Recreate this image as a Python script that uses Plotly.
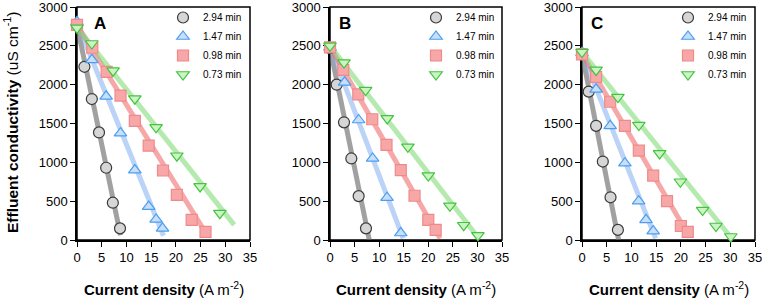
import plotly.graph_objects as go

# ---------------- data ----------------
series_names = ["2.94 min", "1.47 min", "0.98 min", "0.73 min"]
panel_labels = ["A", "B", "C"]
x_ticks = [0, 5, 10, 15, 20, 25, 30, 35]
y_ticks = [0, 500, 1000, 1500, 2000, 2500, 3000]

# Panel A
a_gray_x = [0, 1.5, 3.0, 4.45, 5.9, 7.25, 8.7]
a_gray_y = [2770, 2230, 1815, 1385, 930, 480, 150]
a_blue_x = [0, 3.0, 5.9, 8.8, 11.7, 14.5, 16.0, 17.3]
a_blue_y = [2810, 2320, 1850, 1375, 900, 430, 265, 150]
a_red_x = [0, 3.1, 6.0, 8.8, 11.7, 14.5, 17.4, 20.2, 23.2, 26.0]
a_red_y = [2770, 2475, 2165, 1860, 1535, 1215, 895, 580, 260, 105]
a_green_x = [0, 3.0, 7.3, 11.7, 16.0, 20.2, 24.9, 28.9]
a_green_y = [2730, 2530, 2180, 1820, 1450, 1085, 690, 345]
a_fit_gray_x, a_fit_gray_y = [0, 8.8], [2770, 60]
a_fit_blue_x, a_fit_blue_y = [0, 17.5], [2800, 55]
a_fit_red_x, a_fit_red_y = [0, 26.1], [2770, 85]
a_fit_green_x, a_fit_green_y = [0, 31.8], [2740, 195]

# Panel B
b_gray_x = [0, 1.36, 2.85, 4.34, 5.83, 7.32]
b_gray_y = [2470, 2000, 1515, 1050, 565, 150]
b_blue_x = [0, 2.98, 5.83, 8.67, 11.6, 14.4]
b_blue_y = [2480, 2030, 1545, 1050, 545, 90]
b_red_x = [0, 2.7, 5.76, 8.6, 11.5, 14.4, 17.2, 20.0, 21.5]
b_red_y = [2480, 2190, 1875, 1555, 1225, 900, 570, 260, 130]
b_green_x = [0, 2.85, 7.25, 11.65, 15.85, 20.0, 24.4, 27.2, 30.1]
b_green_y = [2500, 2285, 1930, 1565, 1200, 830, 440, 190, 60]
b_fit_gray_x, b_fit_gray_y = [0, 8.0], [2480, 0]
b_fit_blue_x, b_fit_blue_y = [0, 14.9], [2490, 20]
b_fit_red_x, b_fit_red_y = [0, 22.4], [2490, 20]
b_fit_green_x, b_fit_green_y = [0, 30.1], [2500, 35]

# Panel C
c_gray_x = [0, 1.36, 2.85, 4.21, 5.77, 7.26]
c_gray_y = [2400, 1910, 1470, 1010, 550, 130]
c_blue_x = [0, 2.85, 5.7, 8.68, 11.46, 12.95, 14.4]
c_blue_y = [2410, 1940, 1470, 990, 500, 260, 115]
c_red_x = [0, 2.85, 5.7, 8.68, 11.5, 14.4, 17.2, 20.0, 21.4]
c_red_y = [2390, 2100, 1780, 1470, 1150, 830, 500, 180, 105]
c_green_x = [0, 2.85, 7.26, 11.5, 15.7, 19.9, 24.4, 27.1, 30.1]
c_green_y = [2420, 2190, 1840, 1480, 1115, 750, 385, 180, 45]
c_fit_gray_x, c_fit_gray_y = [0, 7.4], [2400, 0]
c_fit_blue_x, c_fit_blue_y = [0, 14.9], [2410, 20]
c_fit_red_x, c_fit_red_y = [0, 21.8], [2400, 35]
c_fit_green_x, c_fit_green_y = [0, 30.3], [2420, 20]

# ---------------- styles ----------------
FONT = "Arial, Liberation Sans, sans-serif"
styles = [
    dict(symbol="circle", fill="#d6d6d6", edge="#3a3a3a", line="rgba(110,110,110,0.65)"),
    dict(symbol="triangle-up", fill="#c9def8", edge="#4a9ff0", line="rgba(130,175,240,0.55)"),
    dict(symbol="square", fill="#f7a7a7", edge="#f08a8a", line="rgba(240,110,110,0.6)"),
    dict(symbol="triangle-down", fill="#ccf3c4", edge="#43c43f", line="rgba(130,220,120,0.6)"),
]

panels = [
    ([(a_gray_x, a_gray_y), (a_blue_x, a_blue_y), (a_red_x, a_red_y), (a_green_x, a_green_y)],
     [(a_fit_gray_x, a_fit_gray_y), (a_fit_blue_x, a_fit_blue_y), (a_fit_red_x, a_fit_red_y), (a_fit_green_x, a_fit_green_y)]),
    ([(b_gray_x, b_gray_y), (b_blue_x, b_blue_y), (b_red_x, b_red_y), (b_green_x, b_green_y)],
     [(b_fit_gray_x, b_fit_gray_y), (b_fit_blue_x, b_fit_blue_y), (b_fit_red_x, b_fit_red_y), (b_fit_green_x, b_fit_green_y)]),
    ([(c_gray_x, c_gray_y), (c_blue_x, c_blue_y), (c_red_x, c_red_y), (c_green_x, c_green_y)],
     [(c_fit_gray_x, c_fit_gray_y), (c_fit_blue_x, c_fit_blue_y), (c_fit_red_x, c_fit_red_y), (c_fit_green_x, c_fit_green_y)]),
]

W, H = 765, 300
x_domains_px = [(77, 250), (330, 502), (582, 755)]
y_domain = [(300 - 240) / H, (300 - 7) / H]
legend_x_px = [163, 416, 668]
letter_x_px = [100, 345, 597]

fig = go.Figure()
legend_ids = ["legend", "legend2", "legend3"]

for p, (pts, fits) in enumerate(panels):
    xa = "x" if p == 0 else f"x{p+1}"
    ya = "y" if p == 0 else f"y{p+1}"
    for s, (fx, fy) in enumerate(fits):
        fig.add_trace(go.Scatter(x=fx, y=fy, mode="lines", xaxis=xa, yaxis=ya,
                                 line=dict(color=styles[s]["line"], width=5),
                                 showlegend=False, hoverinfo="skip", cliponaxis=False))
    for s, (px_, py_) in enumerate(pts):
        st = styles[s]
        fig.add_trace(go.Scatter(x=px_, y=py_, mode="markers", xaxis=xa, yaxis=ya,
                                 name=series_names[s], legend=legend_ids[p],
                                 marker=dict(symbol=st["symbol"], size=11, color=st["fill"],
                                             line=dict(color=st["edge"], width=1.2)),
                                 cliponaxis=False))

layout = dict(
    width=W, height=H, margin=dict(l=0, r=0, t=0, b=0),
    paper_bgcolor="white", plot_bgcolor="white",
    font=dict(family=FONT, size=13, color="black"),
    annotations=[], shapes=[],
)
for p in range(3):
    sfx = "" if p == 0 else str(p + 1)
    d0, d1 = x_domains_px[p]
    layout["xaxis" + sfx] = dict(
        domain=[d0 / W, d1 / W], range=[0, 35], tickvals=x_ticks, ticks="outside",
        ticklen=5, tickwidth=1, tickcolor="black", showline=True, linecolor="black",
        linewidth=1.5, showgrid=False, zeroline=False, anchor="y" + sfx,
        tickfont=dict(size=13), automargin=False, ticklabeloverflow="allow",
        layer="below traces",
    )
    layout["yaxis" + sfx] = dict(
        domain=y_domain, range=[0, 3000], tickvals=y_ticks, ticks="outside",
        ticklen=5, tickwidth=1, tickcolor="black", showline=True, linecolor="black",
        linewidth=1.5, showgrid=False, zeroline=False, anchor="x" + sfx,
        tickfont=dict(size=13), automargin=False, ticklabeloverflow="allow",
        layer="below traces",
    )
    layout["shapes"].append(dict(
        type="rect", xref="x%s domain" % sfx, yref="y%s domain" % sfx,
        x0=0, x1=1, y0=0, y1=1, line=dict(color="black", width=1.5),
        fillcolor="rgba(0,0,0,0)", layer="below"))
    layout[legend_ids[p]] = dict(
        x=legend_x_px[p] / W, y=(H - 3) / H, xanchor="left", yanchor="top",
        bgcolor="rgba(0,0,0,0)", font=dict(size=10, family=FONT), itemwidth=30,
        tracegroupgap=0,
    )
    layout["annotations"].append(dict(
        text="<b>%s</b>" % panel_labels[p], x=letter_x_px[p] / W, y=(H - 23) / H,
        xref="paper", yref="paper", showarrow=False, font=dict(size=17),
        xanchor="center", yanchor="middle"))
    layout["annotations"].append(dict(
        text="<b>Current density</b> (A m<sup>-2</sup>)", x=(d0 + d1) / 2 / W, y=(H - 288) / H,
        xref="paper", yref="paper", showarrow=False, font=dict(size=15),
        xanchor="center", yanchor="middle"))

layout["annotations"].append(dict(
    text="<b>Effluent conductivity</b> (uS cm<sup>-1</sup>)", x=11 / W, y=(H - 122) / H,
    xref="paper", yref="paper", showarrow=False, textangle=-90, font=dict(size=15.5),
    xanchor="center", yanchor="middle"))

fig.update_layout(**layout)
fig.write_html("out.html", config={"displayModeBar": False},
               post_script="document.body.style.margin='0';document.body.style.padding='0';")
